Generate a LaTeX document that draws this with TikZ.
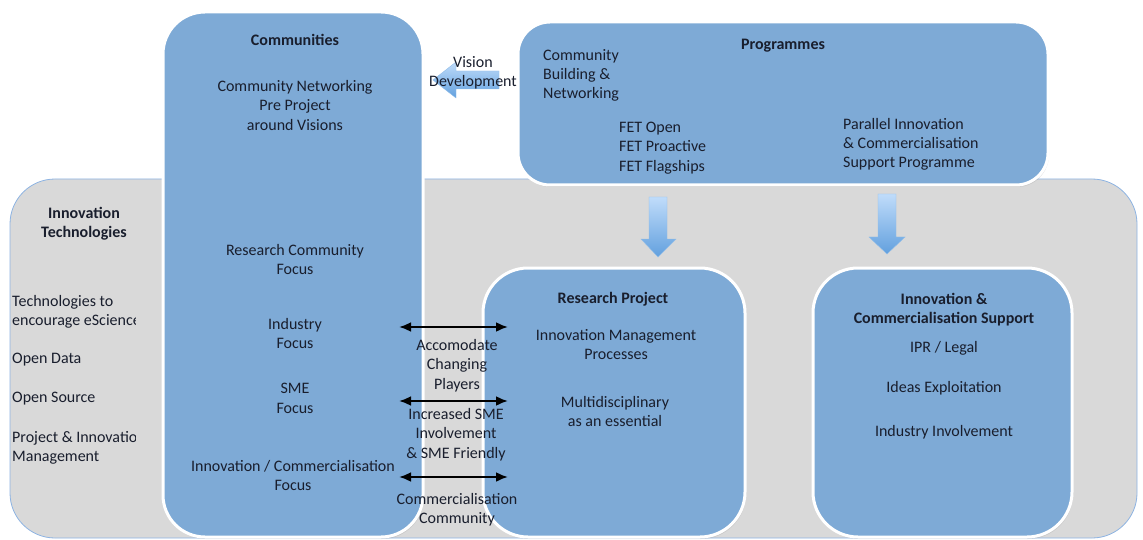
\documentclass[tikz,border=0pt]{standalone}
\usepackage{fontspec}
\setmainfont{Carlito}
\usetikzlibrary{positioning}
\usetikzlibrary{arrows.meta}
\usetikzlibrary{shadows}
\usepackage{xcolor}
\definecolor{boxblue}{RGB}{126,170,214}
\definecolor{panelgray}{RGB}{217,217,217}
\definecolor{panelline}{RGB}{141,179,226}
\definecolor{ink}{RGB}{25,30,45}
\definecolor{arrtop}{RGB}{192,220,250}
\definecolor{arrbot}{RGB}{98,160,222}

\begin{document}
\begin{tikzpicture}[x=1pt, y=-1pt,
	p/.style = {rectangle, draw=panelline, thick, fill=panelgray, rounded corners=45pt},
	b/.style = {rectangle, draw=white, line width=3pt, fill=boxblue,
		drop shadow={opacity=0.2, shadow xshift=1pt, shadow yshift=-2pt}},
	t/.style = {text=ink, align=center, inner sep=0pt, font=\fontsize{16}{19.3}\selectfont},
	tl/.style = {t, align=left, anchor=west},
	h/.style = {t, font=\fontsize{16}{19.3}\selectfont\bfseries},
	ba/.style = {top color=arrtop, bottom color=arrbot, draw=arrbot!70!white, thin},
	r/.style = {{Latex[length=12pt, width=10pt]}-{Latex[length=12pt, width=10pt]}, line width=2.3pt}
	]
	\useasboundingbox (0,0) rectangle (1143,540);
	
	%Panel
	\node[p, minimum width=1127pt, minimum height=359pt]	(panel)	at	(573.5, 358.5)	{};
	\node[h]	(panel-title)	at	(84, 224)		{Innovation\\Technologies};
	% the list sits in a narrow frame, long lines get cut off
	\begin{scope}
		\clip (0, 180) rectangle (135, 540);
		\node[tl]	(tech1)			at	(12, 311.5)		{Technologies to\\encourage eScience};
		\node[tl]	(tech2)			at	(12, 360)		{Open Data};
		\node[tl]	(tech3)			at	(12, 399)		{Open Source};
		\node[tl]	(tech4)			at	(12, 448)		{Project \& Innovation\\Management};
	\end{scope}
	
	%Boxes
	\node[b, rounded corners=42pt, minimum width=260pt, minimum height=525pt]	(comm)	at	(293, 274.5)	{};
	\node[h]	(comm-title)	at	(295, 40)		{Communities};
	\node[t]	(comm1)			at	(295, 105.5)	{Community Networking\\Pre Project\\around Visions};
	\node[t]	(comm2)			at	(295, 259.5)	{Research Community\\Focus};
	\node[t]	(comm3)			at	(295, 333.5)	{Industry\\Focus};
	\node[t]	(comm4)			at	(295, 398.5)	{SME\\Focus};
	\node[t]	(comm5)			at	(293, 475.5)	{Innovation / Commercialisation\\Focus};
	
	\node[b, rounded corners=32pt, minimum width=530pt, minimum height=163pt]	(prog)	at	(783, 103.5)	{};
	\node[h]	(prog-title)	at	(783, 46)		{Programmes};
	\node[tl]	(prog1)			at	(543, 75.5)		{Community\\Building \&\\Networking};
	\node[tl]	(prog2)			at	(619, 148)		{FET Open\\FET Proactive\\FET Flagships};
	\node[tl]	(prog3)			at	(843, 144.5)	{Parallel Innovation\\\& Commercialisation\\Support Programme};
	
	\node[b, rounded corners=45pt, minimum width=262pt, minimum height=269pt]	(res)	at	(614, 402.5)	{};
	\node[h]	(res-title)		at	(613, 299)		{Research Project};
	\node[t]	(res1)			at	(616, 344.5)	{Innovation Management\\Processes};
	\node[t]	(res2)			at	(615, 411.5)	{Multidisciplinary\\as an essential};
	
	\node[b, rounded corners=45pt, minimum width=259pt, minimum height=269pt]	(sup)	at	(942.5, 402.5)	{};
	\node[h]	(sup-title)		at	(944, 309.5)	{Innovation \&\\Commercialisation Support};
	\node[t]	(sup1)			at	(944, 348)		{IPR / Legal};
	\node[t]	(sup2)			at	(944, 388)		{Ideas Exploitation};
	\node[t]	(sup3)			at	(944, 432)		{Industry Involvement};
	
	%Block arrows
	\shade[ba] (433, 80) -- (456, 62) -- (456, 71) -- (499, 71) -- (499, 89) -- (456, 89) -- (456, 98) -- cycle;
	\node[t]	(vision)		at	(473, 72.5)		{Vision\\Development};
	\shade[ba] (649, 197) -- (667, 197) -- (667, 239) -- (676, 239) -- (658, 257) -- (641, 239) -- (649, 239) -- cycle;
	\shade[ba] (878, 194) -- (896, 194) -- (896, 237) -- (905, 237) -- (887, 254) -- (869, 237) -- (878, 237) -- cycle;
	
	%Lines
	\coordinate	(l1)	at	(399, 327);
	\coordinate	(r1)	at	(508, 327);
	\coordinate	(l2)	at	(399, 401);
	\coordinate	(r2)	at	(508, 401);
	\coordinate	(l3)	at	(399, 477);
	\coordinate	(r3)	at	(508, 477);
	\draw[r]	(l1)	--	(r1);
	\draw[r]	(l2)	--	(r2);
	\draw[r]	(l3)	--	(r3);
	\node[t]	(lab1)			at	(457, 365.5)	{Accomodate\\Changing\\Players};
	\node[t]	(lab2)			at	(456, 434.5)	{Increased SME\\Involvement\\\& SME Friendly};
	\node[t]	(lab3)			at	(457, 509.5)	{Commercialisation\\Community};
	
\end{tikzpicture}
\end{document}
